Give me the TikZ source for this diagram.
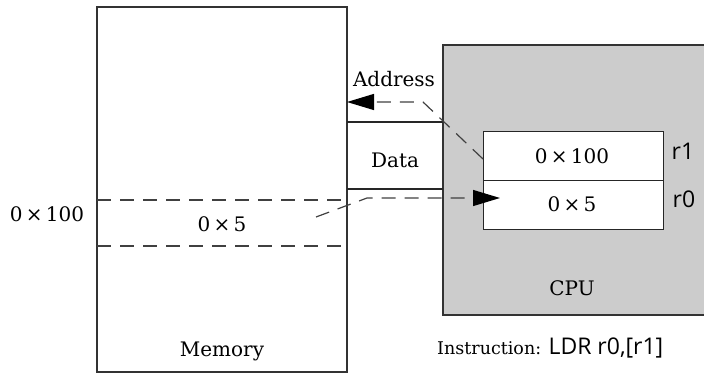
\documentclass[tikz,border=0pt]{standalone}
\usepackage{fontspec}
\setmainfont{DejaVu Serif}
\newfontfamily\sansf{Open Sans}
\usetikzlibrary{arrows.meta}
\begin{document}
\begin{tikzpicture}[x=1pt,y=-1pt,
  box/.style={draw=black!80,line width=1.4pt},
  thin/.style={draw=black!85,line width=1.1pt},
  dline/.style={draw=black!75,line width=1.2pt,dash pattern=on 14pt off 9pt},
  lbl/.style={font=\fontsize{20}{24}\selectfont,inner sep=0pt,anchor=base},
  slbl/.style={font=\sansf\fontsize{23}{27}\selectfont,inner sep=0pt,anchor=base},
  reg/.style={draw=black!85,line width=1.1pt,fill=white,minimum width=180pt,minimum height=49pt,inner sep=0pt,anchor=north west},
  arr/.style={-{Triangle[length=27pt,width=16pt,color=black,fill=black]}}]
\useasboundingbox (0,0) rectangle (704,375);
% CPU
\path[fill=black!20] (443,45) rectangle (704,315);
\draw[box] (704,45) -- (443,45) -- (443,315) -- (704,315);
% Memory
\draw[box] (97,7) rectangle (347,372);
% bus
\draw[thin] (347,122) -- (443,122);
\draw[thin] (347,189) -- (443,189);
% memory cell
\draw[dline] (97,200) -- (347,200);
\draw[dline] (97,246) -- (347,246);
% registers
\node[reg] (r1) at (483,131) {};
\node[reg] (r0) at (483,180) {};
\node[lbl] (v1) at (572,163) {0\,×\,100};
\node[lbl] (v0) at (572,211) {0\,×\,5};
\node[slbl] (r1l) at (683,159) {r1};
\node[slbl] (r0l) at (684,207) {r0};
% labels
\node[lbl] (addr) at (394,86) {Address};
\node[lbl] (data) at (395,167) {Data};
\node[lbl] (cpu) at (572,295) {CPU};
\node[lbl] (mem) at (222,356) {Memory};
\node[lbl] (cell) at (222,231) {0\,×\,5};
\node[lbl] (a100) at (47,221) {0\,×\,100};
\node[anchor=base west,inner sep=0pt] (instr) at (437,354) {\fontsize{17.5}{21}\selectfont Instruction: \sansf\fontsize{23}{27}\selectfont LDR r0,[r1]};
% arrows
\coordinate (as) at (483,159);
\coordinate (ab) at (423,102);
\coordinate (ae) at (347,102);
\draw[dline,arr] (as) -- (ab) -- (ae);
\coordinate (ds) at (316,217);
\coordinate (db) at (367,198);
\coordinate (de) at (500,198);
\draw[dline,arr] (ds) -- (db) -- (de);
\end{tikzpicture}
\end{document}
